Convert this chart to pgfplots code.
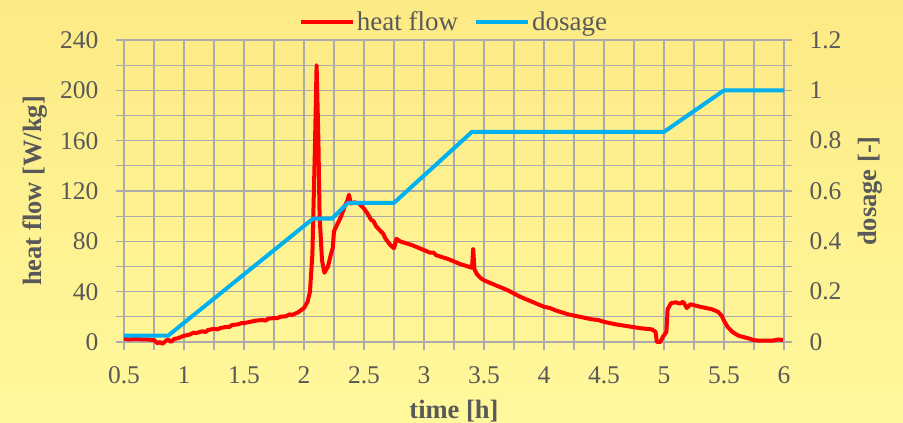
\documentclass[border=0pt]{standalone}
\usepackage{pgfplots}
\pgfplotsset{compat=1.18}
\usepackage{fontspec}
\setmainfont{Liberation Serif}
\definecolor{txt}{HTML}{595959}
\definecolor{gridc}{HTML}{ABABAB}
\definecolor{hred}{HTML}{FF0000}
\definecolor{dblue}{HTML}{00B0F0}
\definecolor{bgtop}{HTML}{FCEA85}
\definecolor{bgbot}{HTML}{FFF89C}
\pgfplotstableread{
t q
0.50 2.5
0.55 2
0.60 2.5
0.65 2
0.70 2
0.75 1.5
0.78 -1
0.80 0
0.82 -1.5
0.85 1
0.87 2
0.89 0
0.92 2.5
0.95 3
1.00 5
1.03 5.5
1.05 6
1.08 7.5
1.10 7
1.15 8.5
1.18 8
1.20 9.5
1.25 10.5
1.28 10
1.30 11
1.35 12
1.38 12
1.40 13.5
1.45 14
1.48 15
1.50 15
1.55 16
1.60 17
1.65 17.5
1.68 17
1.70 18.5
1.75 19
1.78 19
1.80 20
1.85 20.5
1.88 22
1.90 21.5
1.95 23.5
2.00 27
2.03 32
2.05 40
2.07 70
2.09 150
2.105 220
2.12 160
2.13 100
2.15 65
2.17 55
2.20 60
2.22 68
2.24 75
2.25 88
2.28 94
2.31 100
2.34 108
2.36 112
2.375 117
2.39 110
2.42 111
2.46 110
2.50 106
2.53 102
2.56 97
2.58 96
2.60 92
2.64 88
2.66 86
2.68 82
2.72 77
2.75 74.5
2.77 82
2.80 80
2.85 78.5
2.90 77
2.95 75
3.00 73
3.05 71
3.08 71
3.10 69
3.15 67.5
3.20 66
3.25 64
3.30 62
3.35 60.5
3.40 59
3.41 74
3.42 58
3.44 54
3.47 51
3.50 49
3.60 45
3.70 41
3.80 36
3.90 32
4.00 28
4.05 27
4.10 25
4.20 22
4.30 20
4.40 18
4.45 17.5
4.50 16
4.60 14
4.70 12.5
4.80 11
4.90 10
4.93 8
4.94 0
4.97 0
4.99 4
5.02 8
5.03 26
5.06 31
5.10 31.5
5.13 30.5
5.16 32
5.19 27
5.22 30
5.26 29
5.30 28
5.35 27
5.40 26
5.45 24
5.48 21
5.50 17
5.53 12
5.57 8
5.62 5
5.70 3
5.75 1.5
5.80 1
5.90 1
5.95 2
6.00 1.5
}\heat
\pgfplotstableread{
t d
0.50 0.025
0.867 0.025
2.075 0.49
2.233 0.49
2.367 0.553
2.75 0.553
3.40 0.835
5.00 0.835
5.50 1.0
6.00 1.0
}\dose
\begin{document}
\begin{tikzpicture}[x=1pt,y=1pt]
\path[use as bounding box, top color=bgtop, bottom color=bgbot] (-124,-81) rectangle (779,342);
\pgfplotsset{
  every axis/.append style={
    scale only axis, width=660pt, height=302pt, at={(0,0)}, anchor=south west,
    axis line style={gridc, line width=1.3pt},
    tick style={gridc, line width=1.3pt},
    major tick length=8pt, minor tick length=8pt,
    tick align=outside,
    tick label style={font=\fontsize{25.5}{29}\selectfont, text=txt},
    label style={font=\bfseries\fontsize{26.5}{30}\selectfont, text=txt},
    /pgf/number format/assume math mode=true,
  }
}
\begin{axis}[
  xmin=0.5, xmax=6, ymin=0, ymax=240,
  xtick={0.5,1,...,6}, minor xtick={0.75,1.25,...,5.75},
  ytick={0,40,...,240}, minor ytick={20,60,...,220},
  grid=both, major grid style={gridc, line width=1.3pt}, minor grid style={gridc, line width=1.3pt},
  axis y line*=left, axis x line*=bottom,
  xticklabel style={yshift=-13pt},
  yticklabel style={xshift=-14pt},
  xlabel={time [h]}, ylabel={heat flow [W/kg]},
  xlabel style={at={(axis description cs:0.5,0)}, anchor=base, yshift=-76pt},
  ylabel style={at={(axis description cs:-0.135,0.5)}, anchor=center},
  legend style={at={(0.5,1)}, anchor=south, yshift=4pt, draw=none, fill=none,
    legend columns=2, font=\fontsize{27}{30}\selectfont, text=txt,
    /tikz/every even column/.append style={column sep=14pt}},
  legend cell align=left,
  legend image code/.code={\draw[#1] (0pt,0pt) -- (52pt,0pt);},
  clip=false,
]
\addplot[hred, line width=4pt, line join=round] table[x=t,y=q] {\heat};
\addlegendentry{heat flow}
\addlegendimage{dblue, line width=4pt}
\addlegendentry{dosage}
\end{axis}
\begin{axis}[
  xmin=0.5, xmax=6, ymin=0, ymax=1.2,
  axis x line=none, axis y line*=right,
  ytick={0,0.2,...,1.2}, minor ytick={0.1,0.3,...,1.1},
  yticklabel style={xshift=14pt},
  yticklabels={0,0.2,0.4,0.6,0.8,1,1.2},
  ylabel={dosage [-]},
  ylabel style={at={(axis description cs:1.130,0.5)}, anchor=center, rotate=0},
]
\addplot[dblue, line width=4pt, line join=round] table[x=t,y=d] {\dose};
\end{axis}
\end{tikzpicture}
\end{document}
